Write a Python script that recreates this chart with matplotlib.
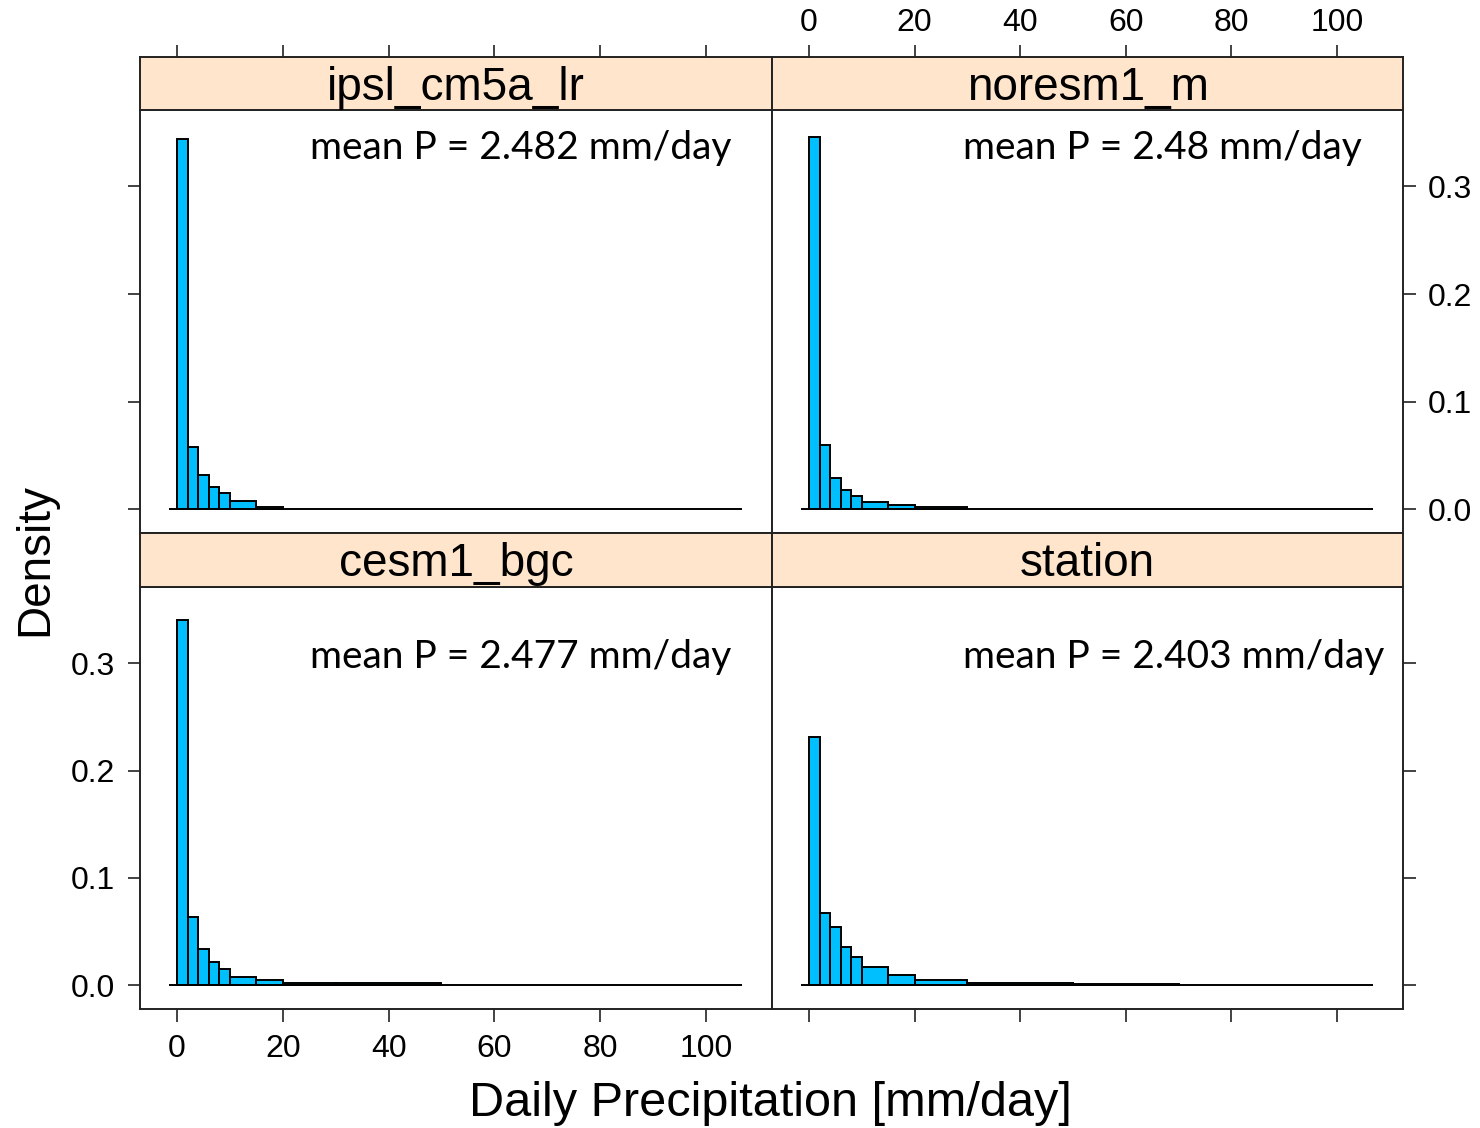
import numpy as np
import matplotlib
matplotlib.use("Agg")
import matplotlib.pyplot as plt

# histogram bin edges (mm/day) and densities per model
edges_ipsl = [0, 2, 4, 6, 8, 10, 15, 20]
dens_ipsl = [0.344, 0.058, 0.032, 0.0206, 0.015, 0.0075, 0.0024]

edges_noresm = [0, 2, 4, 6, 8, 10, 15, 20, 30]
dens_noresm = [0.346, 0.0598, 0.0293, 0.0184, 0.0128, 0.0072, 0.0040, 0.0021]

edges_cesm = [0, 2, 4, 6, 8, 10, 15, 20, 30, 50]
dens_cesm = [0.340, 0.0638, 0.034, 0.0216, 0.0155, 0.0077, 0.0046, 0.0022, 0.0018]

edges_station = [0, 2, 4, 6, 8, 10, 15, 20, 30, 50, 70]
dens_station = [0.231, 0.0675, 0.054, 0.036, 0.0263, 0.0174, 0.0093, 0.0046, 0.0018, 0.0014]

panel_names = ["ipsl_cm5a_lr", "noresm1_m", "cesm1_bgc", "station"]
mean_p = ["2.482", "2.48", "2.477", "2.403"]

x_ticks = [0, 20, 40, 60, 80, 100]
y_ticks = [0.0, 0.1, 0.2, 0.3]

W, H = 1480, 1128
fig = plt.figure(figsize=(W / 100, H / 100), dpi=100)
plt.rcParams['font.family'] = ['Liberation Sans', 'DejaVu Sans']

def box(x0, y0, x1, y1):
    # pixel box (top-left origin) -> figure fraction rect
    return [x0 / W, 1 - y1 / H, (x1 - x0) / W, (y1 - y0) / H]

xl, xm, xr = 140, 772, 1403
rows = [(57, 110, 533), (533, 587, 1009)]
cols = [(xl, xm), (xm, xr)]

data = [(edges_ipsl, dens_ipsl), (edges_noresm, dens_noresm),
        (edges_cesm, dens_cesm), (edges_station, dens_station)]

xlim = (-7.0, 112.5)
ylim = (-0.022, 0.371)
bar_col = '#00BFFF'
strip_col = '#FFE5CC'
tick_fs = 23
frame_lw = 1.4

text_x = [0.269, 0.303]
text_y = [0.91, 0.834]

for r, (s0, s1, p1) in enumerate(rows):
    for c, (c0, c1) in enumerate(cols):
        k = r * 2 + c
        edges, dens = data[k]
        ax = fig.add_axes(box(c0, s1, c1, p1))
        st = fig.add_axes(box(c0, s0, c1, s1))

        widths = np.diff(edges)
        ax.bar(edges[:-1], dens, width=widths, align='edge', color=bar_col,
               edgecolor='black', linewidth=1.4, zorder=2)
        ax.hlines(0, -1.5, 106.8, color='black', linewidth=1.4, zorder=3)
        ax.set_xlim(*xlim)
        ax.set_ylim(*ylim)
        ax.text(text_x[c], text_y[r], 'mean P = ' + mean_p[k] + ' mm/day',
                transform=ax.transAxes, ha='left', va='center',
                fontsize=28, family=['Lato', 'DejaVu Sans'])

        st.set_xlim(*xlim)
        st.set_ylim(0, 1)
        st.set_facecolor(strip_col)
        st.text(0.5, 0.42, panel_names[k], transform=st.transAxes,
                ha='center', va='center', fontsize=33)
        st.set_yticks([])

        for a in (ax, st):
            for sp in a.spines.values():
                sp.set_linewidth(frame_lw)
                sp.set_color('#222222')

        ax.tick_params(direction='out', length=9, width=1.2, color='#222222',
                       labelsize=tick_fs, pad=9)
        st.tick_params(direction='out', length=9, width=1.2, color='#222222',
                       labelsize=tick_fs, pad=5)

        # x ticks: bottom row below panel, top row above strip
        ax.set_xticks(x_ticks)
        st.set_xticks(x_ticks)
        if r == 0:
            ax.tick_params(axis='x', bottom=False, labelbottom=False)
            st.tick_params(axis='x', top=True, bottom=False,
                           labeltop=(c == 1), labelbottom=False)
        else:
            st.tick_params(axis='x', top=False, bottom=False,
                           labeltop=False, labelbottom=False)
            ax.tick_params(axis='x', bottom=True, labelbottom=(c == 0))

        # y ticks: left column on the left, right column on the right
        ax.set_yticks(y_ticks)
        ax.set_yticklabels(['%.1f' % v for v in y_ticks])
        if c == 0:
            ax.tick_params(axis='y', left=True, right=False,
                           labelleft=(r == 1), labelright=False)
        else:
            ax.tick_params(axis='y', left=False, right=True,
                           labelleft=False, labelright=(r == 0))

fig.text(35 / W, 1 - 560 / H, 'Density', rotation=90, ha='center',
         va='center', fontsize=33)
fig.text(770 / W, 1 - 1103 / H, 'Daily Precipitation [mm/day]',
         ha='center', va='center', fontsize=35)

fig.savefig('out.png', dpi=100)
